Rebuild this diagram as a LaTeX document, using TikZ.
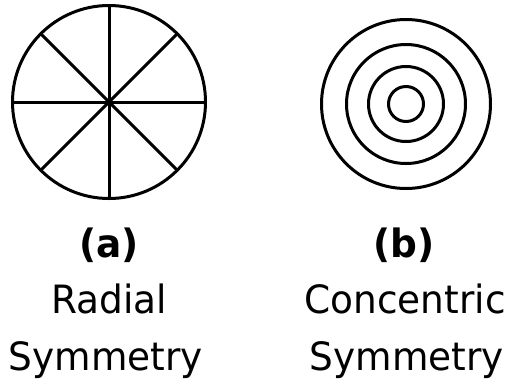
\documentclass[tikz,border=0pt]{standalone}
\usepackage{fontspec}
\setmainfont[FakeStretch=0.96]{DejaVu Sans}
\usetikzlibrary{positioning}

\begin{document}
\begin{tikzpicture}[x=1pt, y=-1pt, line width=3pt,
    ring/.style={circle, draw, inner sep=0pt, outer sep=0pt},
    lbl/.style={font=\fontsize{39}{47}\selectfont, anchor=base, inner sep=0pt}]
    \useasboundingbox (0,0) rectangle (509,384);
    % radial
    \node[ring, minimum size=193pt] (rad) at (109,102) {};
    \foreach \a in {0,45,90,135}
      \draw (rad.\a) -- (rad.\the\numexpr\a+180\relax);
    % concentric
    \node[ring, minimum size=169pt] (c1) at (406,104) {};
    \node[ring, minimum size=119pt] (c2) at (406,104) {};
    \node[ring, minimum size=75pt]  (c3) at (406,104) {};
    \node[ring, minimum size=35pt]  (c4) at (406,104) {};
    % captions
    \node[lbl] (la)  at (109,257) {\textbf{(a)}};
    \node[lbl] (la2) at (109,313) {Radial};
    \node[lbl] (la3) at (106,370) {Symmetry};
    \node[lbl] (lb)  at (404,257) {\textbf{(b)}};
    \node[lbl] (lb2) at (405,313) {Concentric};
    \node[lbl] (lb3) at (407,370) {Symmetry};
\end{tikzpicture}
\end{document}
